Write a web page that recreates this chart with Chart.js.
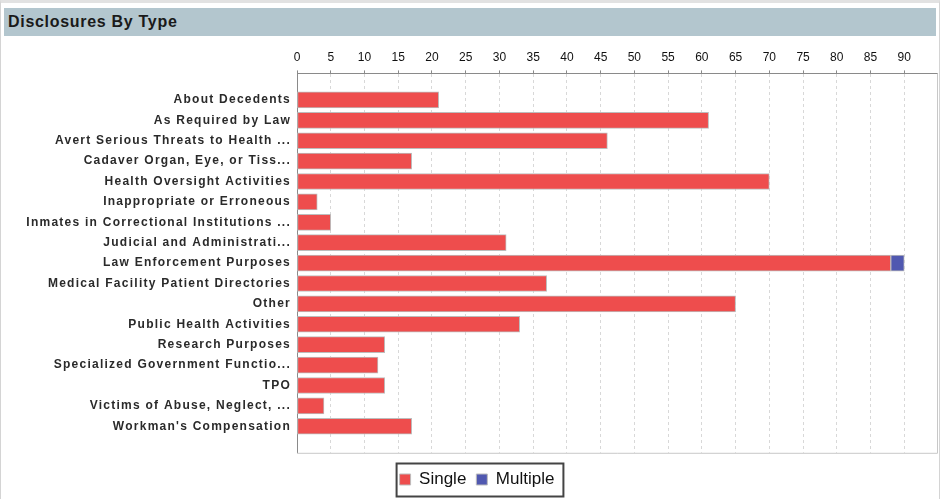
<!DOCTYPE html>
<html>
<head>
<meta charset="utf-8">
<script src="https://cdn.jsdelivr.net/npm/chart.js@4"></script>
<style>
  html, body { margin: 0; background: #fff; overflow: hidden; font-family: "Liberation Sans", Arial, sans-serif; }
  #moldura { position: absolute; left: 0; top: 0; width: 938px; height: 497px; border: 1px solid #d4d4d4; border-top: 3px solid #e2e2e2; }
  #titulo { position: absolute; left: 4px; top: 8px; width: 932px; height: 28px; background: #b3c6ce;
            font: bold 16px "Liberation Sans", Arial, sans-serif; letter-spacing: 0.7px; color: #1a1a1a;
            line-height: 28px; padding-left: 4px; box-sizing: border-box; }
  #caixa { position: absolute; left: 2px; top: 36px; width: 936px; height: 463px; }
</style>
</head>
<body>
<div id="moldura"></div>
<div id="titulo">Disclosures By Type</div>
<div id="caixa"><canvas id="grafico"></canvas></div>
<script>
const categorias = [
  "About Decedents", "As Required by Law", "Avert Serious Threats to Health ...",
  "Cadaver Organ, Eye, or Tiss...", "Health Oversight Activities", "Inappropriate or Erroneous",
  "Inmates in Correctional Institutions ...", "Judicial and Administrati...", "Law Enforcement Purposes",
  "Medical Facility Patient Directories", "Other", "Public Health Activities", "Research Purposes",
  "Specialized Government Functio...", "TPO", "Victims of Abuse, Neglect, ...", "Workman's Compensation"
];
const valoresSingle   = [21, 61, 46, 17, 70, 3, 5, 31, 88, 37, 65, 33, 13, 12, 13, 4, 17];
const valoresMultiple = [0, 0, 0, 0, 0, 0, 0, 0, 2, 0, 0, 0, 0, 0, 0, 0, 0];
const ticksX = [0, 5, 10, 15, 20, 25, 30, 35, 40, 45, 50, 55, 60, 65, 70, 75, 80, 85, 90];

const FONTE = '"Liberation Sans", Arial, sans-serif';

// pontos {x, y} para o eixo de categorias numérico (só valores > 0)
const paraPontos = (arr) => arr.map((v, i) => ({ x: v, y: i })).filter(p => p.x > 0);

// linhas de baixo/direita da área do gráfico + caixa da legenda
const pluginMoldura = {
  id: 'moldura',
  afterDraw(chart) {
    const { ctx, chartArea: a, legend } = chart;
    ctx.save();
    ctx.strokeStyle = '#c8c8c8';
    ctx.lineWidth = 1;
    ctx.beginPath();
    ctx.moveTo(a.left, a.bottom + 0.5);
    ctx.lineTo(a.right - 0.5, a.bottom + 0.5);
    ctx.lineTo(a.right - 0.5, a.top);
    ctx.stroke();
    if (legend && legend.legendHitBoxes.length) {
      const hb = legend.legendHitBoxes;
      const last = hb[hb.length - 1];
      const x0 = hb[0].left - 3;
      const x1 = last.left + last.width + 9;
      const cy = hb[0].top + hb[0].height / 2;
      ctx.strokeStyle = '#444';
      ctx.lineWidth = 2;
      ctx.strokeRect(x0, cy - 16, x1 - x0, 33);
    }
    ctx.restore();
  }
};

new Chart(document.getElementById('grafico'), {
  type: 'bar',
  data: {
    datasets: [
      { label: 'Single', data: paraPontos(valoresSingle), backgroundColor: '#ee4d4d',
        borderColor: '#bdbdbd', borderWidth: 1, borderSkipped: false, barThickness: 16 },
      { label: 'Multiple', data: paraPontos(valoresMultiple), backgroundColor: '#5058b0',
        borderColor: '#bdbdbd', borderWidth: 1, borderSkipped: false, barThickness: 16 }
    ]
  },
  options: {
    indexAxis: 'y',
    responsive: true,
    maintainAspectRatio: false,
    animation: false,
    layout: { padding: { top: 8, right: 0, bottom: 1, left: 14 } },
    plugins: {
      tooltip: { enabled: false },
      legend: {
        position: 'bottom',
        title: { display: true, text: '', padding: { top: 7, bottom: 0 }, font: { size: 1 } },
        labels: { boxWidth: 11, boxHeight: 11, color: '#111', padding: 10,
                  font: { family: FONTE, size: 17 } }
      }
    },
    scales: {
      x: {
        type: 'linear', position: 'top', stacked: true, min: 0, max: 95,
        afterBuildTicks: (s) => { s.ticks = ticksX.map(v => ({ value: v })); },
        ticks: { color: '#111', padding: 6, font: { family: FONTE, size: 12 } },
        grid: { color: '#d8d8d8', drawTicks: true, tickLength: 3, tickColor: '#8a8a8a' },
        border: { display: true, color: '#8a8a8a', dash: [3, 3] }
      },
      y: {
        type: 'linear', stacked: true, reverse: true, offset: false, bounds: 'data', min: -1.3, max: 17.3,
        afterBuildTicks: (s) => {
          s.ticks = categorias.map((_, i) => ({ value: i }));
          s.min = -1.3;
          s.max = 17.3;
        },
        afterFit: (s) => {
          s.width = 281;
          // espaçamento entre letras nas etiquetas das categorias
          if (!s._espacado) {
            const orig = s.drawLabels.bind(s);
            s.drawLabels = (area) => {
              s.ctx.save();
              s.ctx.letterSpacing = '1.25px';
              orig(area);
              s.ctx.restore();
            };
            s._espacado = true;
          }
        },
        ticks: { color: '#2a2a2a', padding: 6, callback: (v) => categorias[v],
                 font: { family: FONTE, size: 12, weight: 'bold' } },
        grid: { display: false, drawTicks: false },
        border: { display: true, color: '#8a8a8a' }
      }
    }
  },
  plugins: [pluginMoldura]
});
</script>
</body>
</html>
